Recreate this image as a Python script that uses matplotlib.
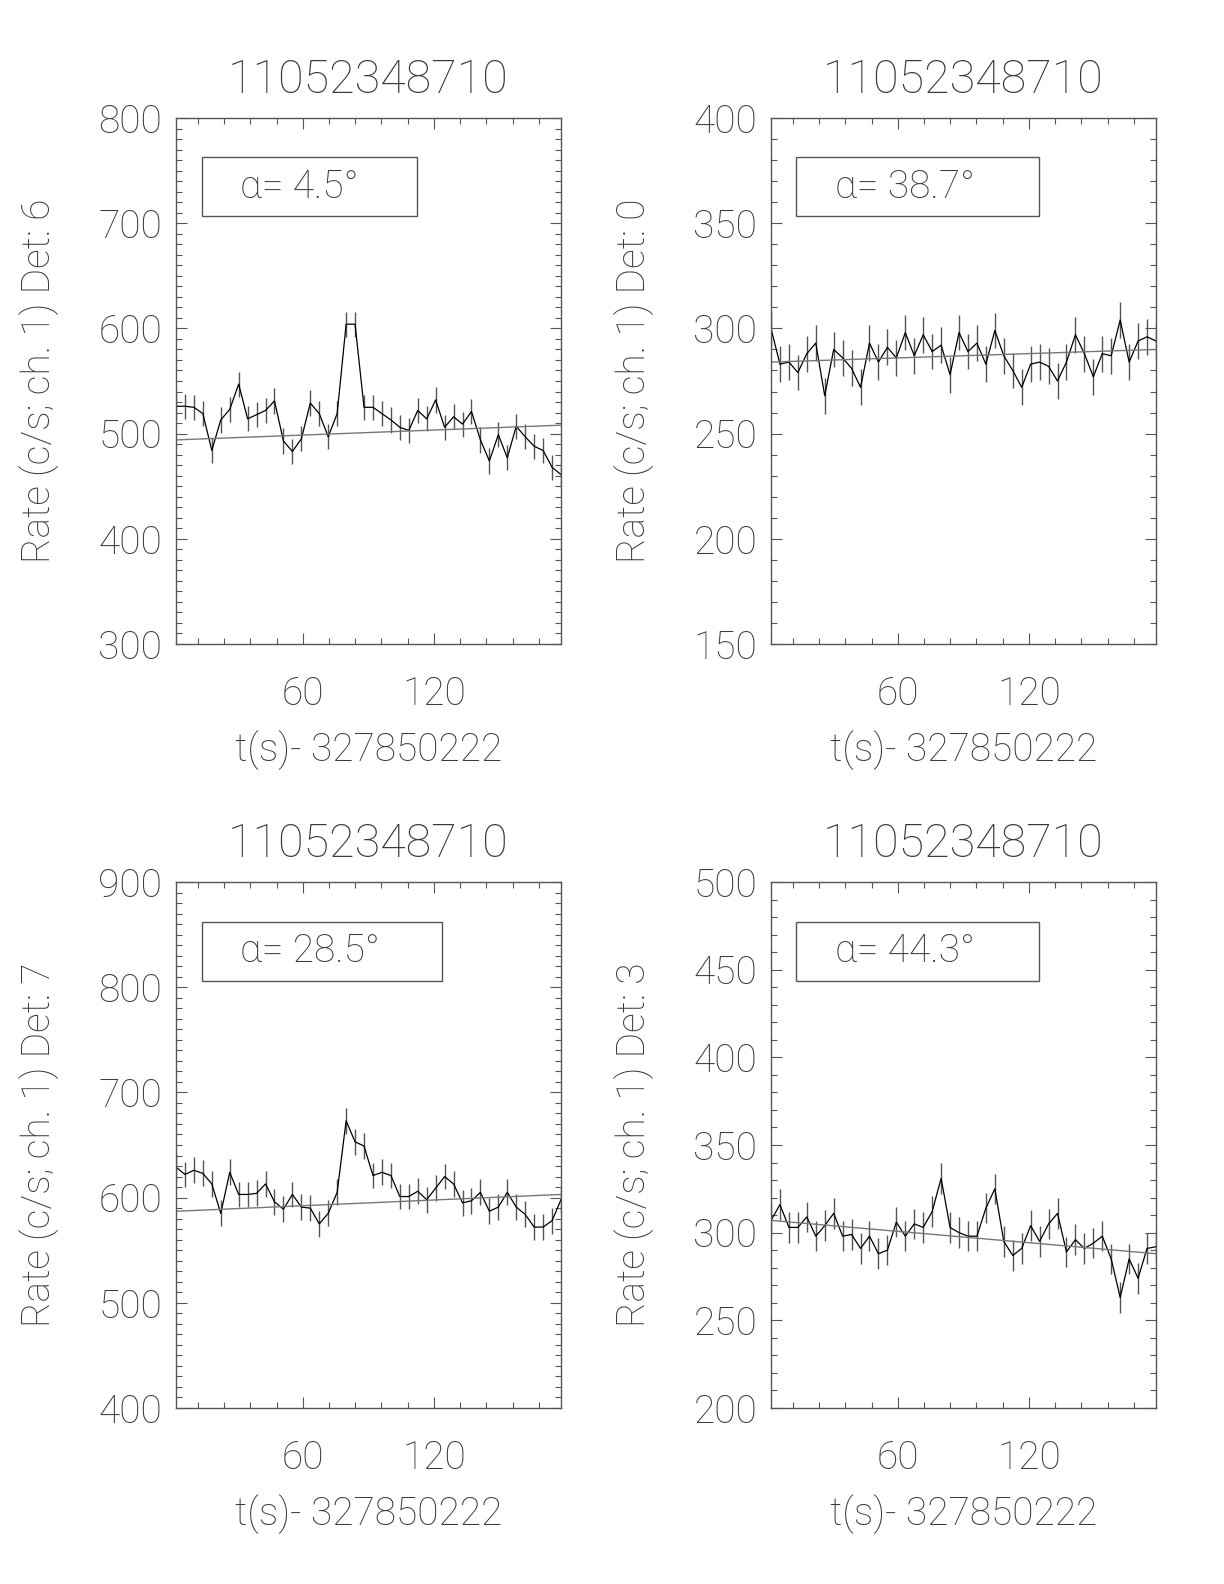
import matplotlib
matplotlib.use("Agg")
import matplotlib.pyplot as plt
from matplotlib.patches import Rectangle
from matplotlib.ticker import MultipleLocator
import numpy as np

# CSPEC bins of 4.096 s, first bin 2 s after the reference time
BIN = 4.096
T_FIRST = 2.0
N_BINS = 44

burst_id = "11052348710"
t_ref = "327850222"

# rates (c/s, channel 1) per detector
rate_det6 = [526, 526, 525, 519, 484, 513, 523, 547, 514, 518, 522, 531, 493, 483, 495,
             529, 519, 497, 519, 604, 604, 525, 525, 519, 513, 506, 503, 522, 514, 532,
             506, 516, 509, 521, 494, 474, 499, 477, 507, 497, 488, 484, 468, 461]
rate_det0 = [300, 283, 284, 279, 288, 293, 268, 290, 286, 281, 272, 293, 284, 291, 286,
             298, 287, 297, 289, 292, 278, 298, 289, 293, 283, 299, 287, 280, 272, 283,
             284, 282, 275, 284, 297, 288, 277, 288, 287, 304, 284, 294, 296, 294]
rate_det7 = [629, 622, 626, 623, 613, 585, 624, 603, 603, 604, 613, 596, 589, 603, 591,
             590, 575, 585, 605, 673, 653, 649, 621, 624, 621, 601, 601, 606, 598, 609,
             620, 613, 595, 597, 605, 587, 591, 605, 591, 584, 572, 572, 578, 598]
rate_det3 = [307, 316, 303, 303, 309, 298, 304, 311, 298, 299, 291, 298, 288, 290, 306,
             298, 305, 303, 312, 331, 303, 300, 298, 298, 314, 325, 295, 287, 291, 304,
             295, 305, 311, 289, 296, 291, 294, 298, 285, 263, 285, 274, 291, 292]

# typical 1-sigma error bar half length per detector
err_det6 = 12
err_det0 = 8.5
err_det7 = 12.3
err_det3 = 8.7

# background fit, value at first and last bin
fit_det6 = [494, 508]
fit_det0 = [284, 290]
fit_det7 = [587, 603]
fit_det3 = [307, 288]

dets = ["6", "0", "7", "3"]
angles = ["4.5", "38.7", "28.5", "44.3"]
ylims = [(300, 800), (150, 400), (400, 900), (200, 500)]
ymajor = [100, 50, 100, 50]

rates = [rate_det6, rate_det0, rate_det7, rate_det3]
errs = [err_det6, err_det0, err_det7, err_det3]
fits = [fit_det6, fit_det0, fit_det7, fit_det3]

FONT = "Roboto"
TXT = "#3a3a3a"
FS = 28

plt.rcParams["font.family"] = [FONT, "DejaVu Sans"]
plt.rcParams["font.weight"] = 100
plt.rcParams["axes.titleweight"] = 100
plt.rcParams["axes.labelweight"] = 100
plt.rcParams["font.size"] = FS
plt.rcParams["text.color"] = TXT
plt.rcParams["axes.labelcolor"] = TXT
plt.rcParams["xtick.color"] = "#555555"
plt.rcParams["ytick.color"] = "#555555"
plt.rcParams["xtick.labelcolor"] = TXT
plt.rcParams["ytick.labelcolor"] = TXT

fig = plt.figure(figsize=(12.24, 15.84), dpi=100)

W, H = 1224.0, 1584.0
lefts = [176, 771, 176, 771]
tops = [118, 118, 882, 882]
ax_w, ax_h = 385, 526
# legend box geometry (axes fraction): x0, width
box_x = [0.067, 0.065, 0.067, 0.065]
box_w = [0.56, 0.63, 0.625, 0.63]
box_y = [0.814, 0.814, 0.812, 0.812]

t = T_FIRST + BIN * np.arange(N_BINS)

for i in range(4):
    ax = fig.add_axes([lefts[i] / W, 1 - (tops[i] + ax_h) / H, ax_w / W, ax_h / H])
    r = np.array(rates[i])
    ax.errorbar(t, r, yerr=errs[i], fmt="none", ecolor="#555555", elinewidth=1.0, capsize=0)
    ax.plot(t, r, color="black", lw=0.9)
    ax.plot([t[0], t[-1]], fits[i], color="#777777", lw=1.0)

    ax.set_xlim(t[0], t[-1])
    ax.set_ylim(*ylims[i])
    ax.xaxis.set_major_locator(MultipleLocator(60))
    ax.xaxis.set_minor_locator(MultipleLocator(12))
    ax.yaxis.set_major_locator(MultipleLocator(ymajor[i]))
    ax.yaxis.set_minor_locator(MultipleLocator(10))
    ax.tick_params(which="both", direction="in", top=True, right=True, width=0.8)
    ax.tick_params(which="major", length=8)
    ax.tick_params(which="minor", length=4)
    ax.tick_params(axis="x", pad=23)
    ax.tick_params(axis="y", pad=10)
    for s in ax.spines.values():
        s.set_color("#555555")
        s.set_linewidth(1.0)

    ax.set_title(burst_id, pad=18)
    ax.set_xlabel("t(s)- " + t_ref, labelpad=12)
    ax.set_ylabel("Rate (c/s; ch. 1) Det: " + dets[i], labelpad=28)

    ax.add_patch(Rectangle((box_x[i], box_y[i]), box_w[i], 0.112, transform=ax.transAxes,
                           fill=False, ec="#555555", lw=1.0))
    ax.text(0.166, 0.869, "α= " + angles[i] + "°", transform=ax.transAxes,
            ha="left", va="center")

fig.savefig("out.png", dpi=100)
